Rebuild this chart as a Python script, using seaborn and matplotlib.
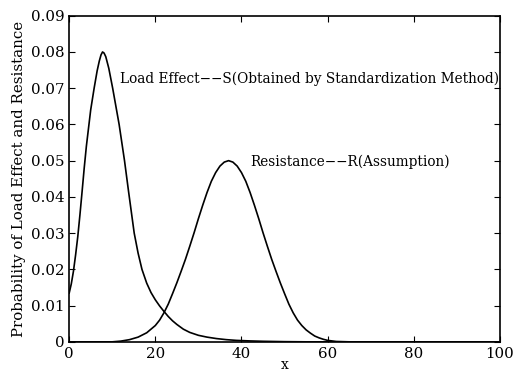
import pandas as pd
import matplotlib
matplotlib.use("Agg")
import matplotlib.pyplot as plt
import seaborn as sns

# Load effect S
x_load = [0, 0.5, 1, 1.5, 2, 2.5, 3, 3.5, 4, 4.4, 5, 5.8, 6.5, 7, 7.4, 7.75, 8.1, 8.5,
          9.2, 10.1, 11.6, 12.85, 13.8, 15.1, 16, 16.9, 18, 19, 20, 21, 22, 23,
          24, 25, 26.5, 28, 30, 32, 34.2, 36.5, 38.8, 42, 45, 50, 55, 100]
y_load = [0.0134, 0.016, 0.0195, 0.024, 0.029, 0.035, 0.0414, 0.048, 0.054, 0.058,
          0.064, 0.070, 0.0748, 0.0775, 0.0792, 0.080, 0.0797, 0.0787, 0.0755, 0.070,
          0.060, 0.050, 0.0414, 0.030, 0.0245, 0.020, 0.0162, 0.0136, 0.0116, 0.0099,
          0.0084, 0.0070, 0.0058, 0.0048, 0.0035, 0.0026, 0.0018, 0.0013, 0.0009,
          0.0006, 0.0004, 0.00025, 0.00015, 0.00005, 0.0, 0.0]

# Resistance R
x_res = [0, 10, 12, 14, 16, 18, 20, 21, 22, 23, 24, 25, 26, 27, 28, 29, 30, 31, 32,
         33, 34, 35, 36, 37, 38, 39, 40, 41, 42, 43, 44, 45, 46, 47, 48, 49, 50, 51,
         52, 53, 54, 55, 56, 57, 58, 59, 60, 62, 65, 100]
y_res = [0.0, 0.0, 0.0002, 0.0006, 0.0013, 0.0025, 0.0045, 0.006, 0.008, 0.0104,
         0.0133, 0.0163, 0.0195, 0.0228, 0.0264, 0.0301, 0.0340, 0.0377, 0.0412,
         0.0443, 0.0467, 0.0485, 0.0496, 0.050, 0.0496, 0.0485, 0.0467, 0.0443,
         0.0412, 0.0377, 0.0340, 0.0301, 0.0264, 0.0228, 0.0195, 0.0163, 0.0133,
         0.0104, 0.008, 0.006, 0.0045, 0.0033, 0.0024, 0.0016, 0.0011, 0.0007,
         0.0004, 0.0001, 0.0, 0.0]

label_load = "Load Effect\u2212\u2212S(Obtained by Standardization Method)"
label_res = "Resistance\u2212\u2212R(Assumption)"

x_ticks = [0, 20, 40, 60, 80, 100]
y_ticks = [0, 0.01, 0.02, 0.03, 0.04, 0.05, 0.06, 0.07, 0.08, 0.09]
y_ticklabels = ["0", "0.01", "0.02", "0.03", "0.04", "0.05", "0.06", "0.07", "0.08", "0.09"]

df_load = pd.DataFrame({"x": x_load, "y": y_load})
df_res = pd.DataFrame({"x": x_res, "y": y_res})

sns.set_style("ticks")
plt.rcParams["font.family"] = ["DejaVu Serif"]
plt.rcParams["text.color"] = "black"
plt.rcParams["axes.labelcolor"] = "black"

fig = plt.figure(figsize=(5.16, 3.74), dpi=100)
ax = fig.add_axes([0.134, 0.086, 0.835, 0.872])

sns.lineplot(data=df_load, x="x", y="y", color="black", linewidth=1.2, ax=ax)
sns.lineplot(data=df_res, x="x", y="y", color="black", linewidth=1.2, ax=ax)

ax.text(11.8, 0.0727, label_load, fontsize=9.8, va="center", ha="left", color="black")
ax.text(42.1, 0.0496, label_res, fontsize=9.8, va="center", ha="left", color="black")

ax.set_xlim(0, 100)
ax.set_ylim(0, 0.09)
ax.set_xticks(x_ticks)
ax.set_yticks(y_ticks)
ax.set_yticklabels(y_ticklabels)
ax.tick_params(direction="in", top=True, right=True, length=4, labelsize=10.8, colors="black")
for s in ax.spines.values():
    s.set_color("black")
    s.set_linewidth(1.2)

ax.set_xlabel("x", fontsize=10, labelpad=-2, color="black")
ax.set_ylabel("Probability of Load Effect and Resistance", fontsize=10.8, labelpad=3, color="black")

fig.savefig("out.png", dpi=100)
